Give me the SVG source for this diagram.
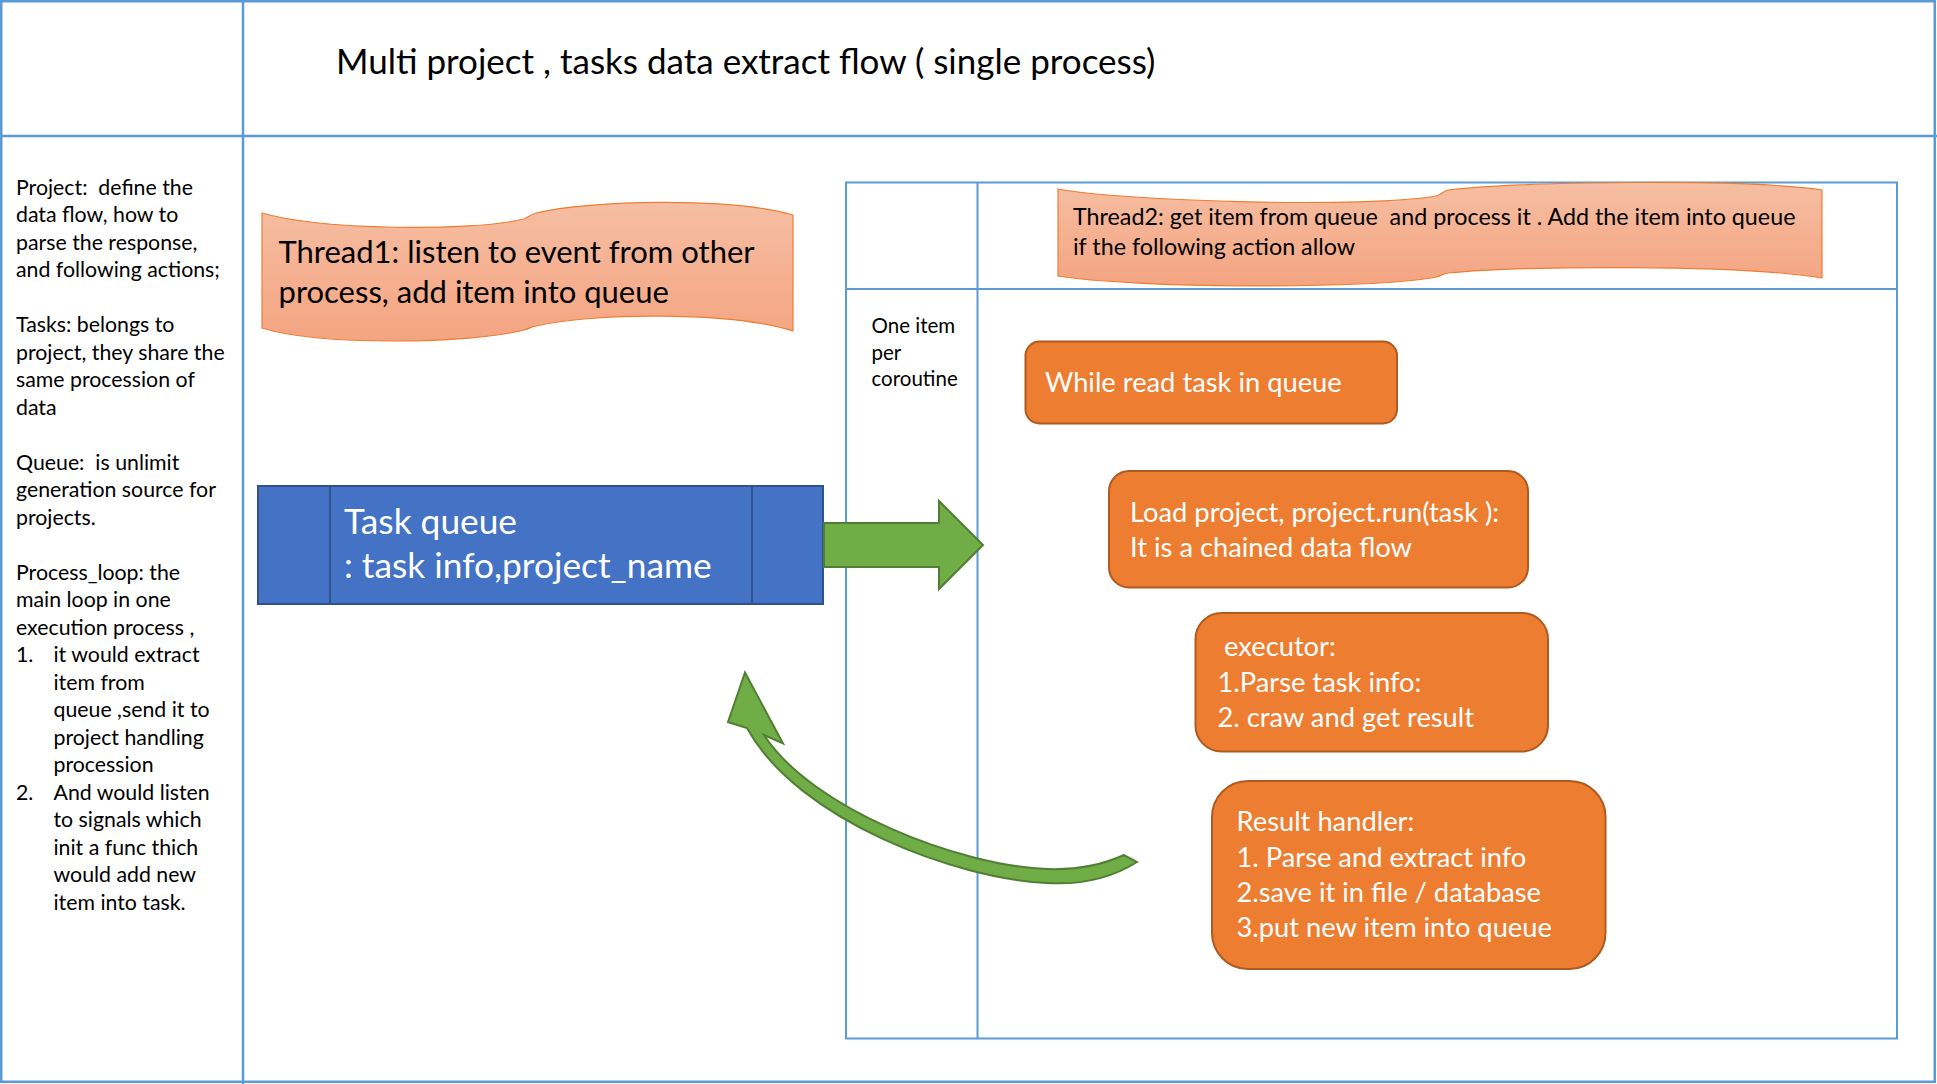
<svg xmlns="http://www.w3.org/2000/svg" width="1937" height="1084" viewBox="0 0 1937 1084">
<defs>
<linearGradient id="waveGrad" x1="0" y1="0" x2="0" y2="1">
<stop offset="0" stop-color="#F6BEA3"/>
<stop offset="1" stop-color="#F4A481"/>
</linearGradient>
<style>
.frame{fill:none;stroke:#5B9BD5;stroke-width:2.5}
.lane{fill:none;stroke:#5B9BD5;stroke-width:2}
.t{font-family:Lato,'Liberation Sans',sans-serif;fill:#000}
.note{font-size:21.3px}
.small{font-size:20.5px}
.wave{fill:url(#waveGrad);stroke:#ED7D31;stroke-width:1.2}
.obox{fill:#ED7D31;stroke:#AE5A21;stroke-width:2}
.w{font-family:Lato,'Liberation Sans',sans-serif;fill:#FFFFFF}
.ot{font-size:27.3px}
.queue{fill:#4472C4;stroke:#2F528F;stroke-width:2}
.green{fill:#70AD47;stroke:#507E32;stroke-width:2;stroke-linejoin:miter}
</style>
</defs>
<rect width="1937" height="1084" fill="#FFFFFF"/>

<g id="frame">
<rect class="frame" x="1.25" y="1.25" width="1933.5" height="1080.5"/>
<line class="frame" x1="0" y1="136" x2="1937" y2="136"/>
<line class="frame" x1="243" y1="0" x2="243" y2="1084"/>
</g>

<g id="title">
<text class="t" x="336" y="74" font-size="35">Multi project , tasks data extract flow ( single process)</text>
</g>

<g id="legend" class="t note">
<text x="16" y="194.5" xml:space="preserve">Project:  define the</text>
<text x="16" y="222">data flow, how to</text>
<text x="16" y="249.5">parse the response,</text>
<text x="16" y="277">and following actions;</text>
<text x="16" y="332">Tasks: belongs to</text>
<text x="16" y="359.5">project, they share the</text>
<text x="16" y="387">same procession of</text>
<text x="16" y="414.5">data</text>
<text x="16" y="469.5" xml:space="preserve">Queue:  is unlimit</text>
<text x="16" y="497">generation source for</text>
<text x="16" y="524.5">projects.</text>
<text x="16" y="579.5">Process_loop: the</text>
<text x="16" y="607">main loop in one</text>
<text x="16" y="634.5">execution process ,</text>
<text x="16" y="662">1.</text>
<text x="53.5" y="662">it would extract</text>
<text x="53.5" y="689.5">item from</text>
<text x="53.5" y="717">queue ,send it to</text>
<text x="53.5" y="744.5">project handling</text>
<text x="53.5" y="772">procession</text>
<text x="16" y="799.5">2.</text>
<text x="53.5" y="799.5">And would listen</text>
<text x="53.5" y="827">to signals which</text>
<text x="53.5" y="854.5">init a func thich</text>
<text x="53.5" y="882">would add new</text>
<text x="53.5" y="909.5">item into task.</text>
</g>

<g id="pool">
<rect class="lane" x="846" y="182.5" width="1051" height="856"/>
<line class="lane" x1="846" y1="289" x2="1897" y2="289"/>
<line class="lane" x1="977.5" y1="182.5" x2="977.5" y2="1038.5"/>
<text class="t small" x="871.5" y="333">One item</text>
<text class="t small" x="871.5" y="359.5">per</text>
<text class="t small" x="871.5" y="386">coroutine</text>
</g>

<g id="thread1">
<path class="wave" d="M262,213 C320,230 470,232 524,219 C529,217 530,215 536,213 C590,200 730,197 793,215 L793,331 C730,311 590,313 536,326 C530,327 529,329 524,330 C470,344 320,346 262,328 Z"/>
<text class="t" font-size="31" x="278.5" y="263">Thread1: listen to event from other</text>
<text class="t" font-size="31" x="278.5" y="302.5">process, add item into queue</text>
</g>

<g id="thread2">
<path class="wave" d="M1058,189 C1130,202 1370,208 1436,196 C1441,195 1442,192 1448,190 C1520,182 1740,178 1822,190 L1822,278 C1740,264 1520,266 1448,273 C1442,274 1441,276 1436,277 C1370,290 1130,288 1058,276 Z"/>
<text class="t" font-size="23.3" x="1073" y="225" xml:space="preserve">Thread2: get item from queue  and process it . Add the item into queue</text>
<text class="t" font-size="23.3" x="1073" y="254.5">if the following action allow</text>
</g>

<g id="taskqueue">
<rect class="queue" x="258" y="486" width="565" height="118"/>
<line class="queue" x1="330" y1="486" x2="330" y2="604"/>
<line class="queue" x1="752" y1="486" x2="752" y2="604"/>
<text class="w" font-size="35.3" x="344" y="534">Task queue</text>
<text class="w" font-size="35.3" x="344" y="578">: task info,project_name</text>
</g>

<g id="while-read">
<rect class="obox" x="1025.5" y="341.5" width="371.5" height="82" rx="14" ry="14"/>
<text class="w ot" x="1045" y="392">While read task in queue</text>
</g>

<g id="load-project">
<rect class="obox" x="1109" y="471" width="419" height="116.5" rx="20" ry="20"/>
<text class="w ot" x="1130" y="522">Load project, project.run(task ):</text>
<text class="w ot" x="1130" y="557">It is a chained data flow</text>
</g>

<g id="executor">
<rect class="obox" x="1195.5" y="613" width="352.5" height="138.5" rx="26" ry="26"/>
<text class="w ot" x="1224" y="656">executor:</text>
<text class="w ot" x="1217.5" y="691.5">1.Parse task info:</text>
<text class="w ot" x="1217.5" y="726.5">2. craw and get result</text>
</g>

<g id="result-handler">
<rect class="obox" x="1212" y="781" width="393.5" height="188" rx="36" ry="36"/>
<text class="w ot" x="1236.5" y="831">Result handler:</text>
<text class="w ot" x="1236.5" y="866.5">1. Parse and extract info</text>
<text class="w ot" x="1236.5" y="901.5">2.save it in file / database</text>
<text class="w ot" x="1236.5" y="936.5">3.put new item into queue</text>
</g>

<g id="connectors">
<path class="green" d="M824,523 L939,523 L939,501 L983,545 L939,589 L939,567 L824,567 Z"/>
<path class="green" d="M1137,862 C1110,879 1080,885 1047,883 C958,879 798,821 747,728 L728,722 L745,672.5 L783,743.5 L764,735 C812,809 960,866 1047,869 C1075,870 1100,866 1124,855 Z"/>
</g>
</svg>
